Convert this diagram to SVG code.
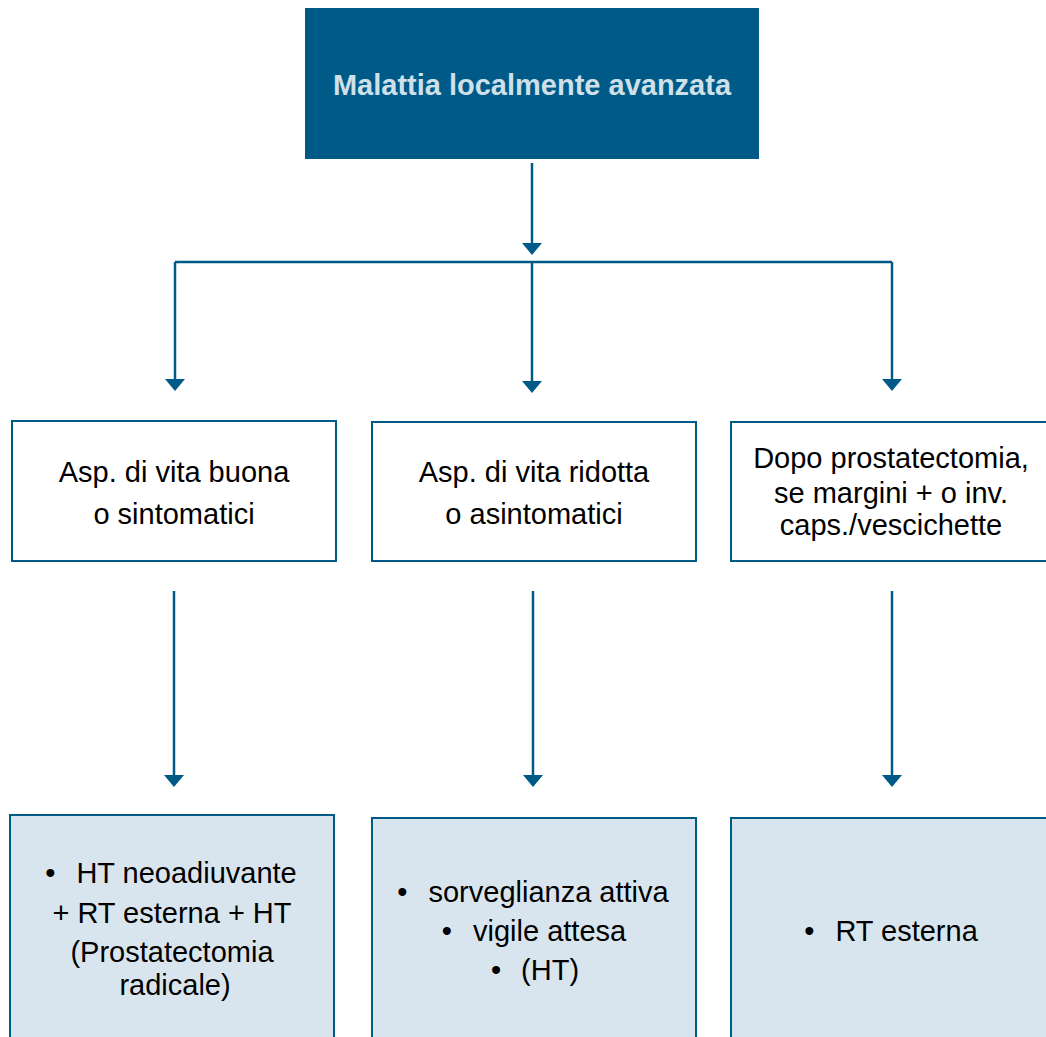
<svg xmlns="http://www.w3.org/2000/svg" width="1046" height="1037" viewBox="0 0 1046 1037">
<defs>
<style>
.t{font-family:"Liberation Sans",Arial,sans-serif;font-size:29px;fill:#000;text-anchor:middle}
.title{font-family:"Liberation Sans",Arial,sans-serif;font-size:29px;font-weight:bold;fill:#cfe0ea;text-anchor:middle}
.box{fill:#fff;stroke:#005a87;stroke-width:2}
.res{fill:#d9e5ee;stroke:#005a87;stroke-width:2}
.c{fill:none;stroke:#005a87;stroke-width:2.5}
</style>
<marker id="a" markerWidth="12" markerHeight="20" refX="0" refY="10" orient="auto" markerUnits="userSpaceOnUse" viewBox="0 0 12 20">
<path d="M0,0 L12,10 L0,20 Z" fill="#005a87"/>
</marker>
</defs>
<rect width="1046" height="1037" fill="#fff"/>
<g id="connectors">
<path class="c" d="M532,163 V243" marker-end="url(#a)"/>
<path class="c" d="M175,262 H892"/>
<path class="c" d="M175,262 V379" marker-end="url(#a)"/>
<path class="c" d="M532,262 V381" marker-end="url(#a)"/>
<path class="c" d="M892,262 V379" marker-end="url(#a)"/>
<path class="c" d="M174,591 V775" marker-end="url(#a)"/>
<path class="c" d="M533,591 V775" marker-end="url(#a)"/>
<path class="c" d="M892,591 V775" marker-end="url(#a)"/>
</g>
<g id="n-top">
<rect x="305" y="8" width="454" height="151" fill="#005a87"/>
<text class="title" x="532" y="95">Malattia localmente avanzata</text>
</g>
<g id="n-a1">
<rect class="box" x="12" y="421" width="324" height="140"/>
<text class="t" x="174" y="482">Asp. di vita buona</text>
<text class="t" x="174" y="524">o sintomatici</text>
</g>
<g id="n-a2">
<rect class="box" x="372" y="422" width="324" height="139"/>
<text class="t" x="534" y="482">Asp. di vita ridotta</text>
<text class="t" x="534" y="524">o asintomatici</text>
</g>
<g id="n-a3">
<rect class="box" x="731" y="422" width="320" height="139"/>
<text class="t" x="891" y="468">Dopo prostatectomia,</text>
<text class="t" x="891" y="503">se margini + o inv.</text>
<text class="t" x="891" y="535">caps./vescichette</text>
</g>
<g id="n-b1">
<rect class="res" x="10" y="815" width="324" height="230"/>
<text class="t" x="171" y="883">•<tspan dx="21">HT neoadiuvante</tspan></text>
<text class="t" x="172" y="923">+ RT esterna + HT</text>
<text class="t" x="172" y="962">(Prostatectomia</text>
<text class="t" x="175" y="995">radicale)</text>
</g>
<g id="n-b2">
<rect class="res" x="372" y="818" width="324" height="230"/>
<text class="t" x="533" y="902">•<tspan dx="21">sorveglianza attiva</tspan></text>
<text class="t" x="534" y="941">•<tspan dx="21">vigile attesa</tspan></text>
<text class="t" x="535" y="980">•<tspan dx="20">(HT)</tspan></text>
</g>
<g id="n-b3">
<rect class="res" x="731" y="818" width="320" height="230"/>
<text class="t" x="891" y="941">•<tspan dx="21">RT esterna</tspan></text>
</g>
</svg>
